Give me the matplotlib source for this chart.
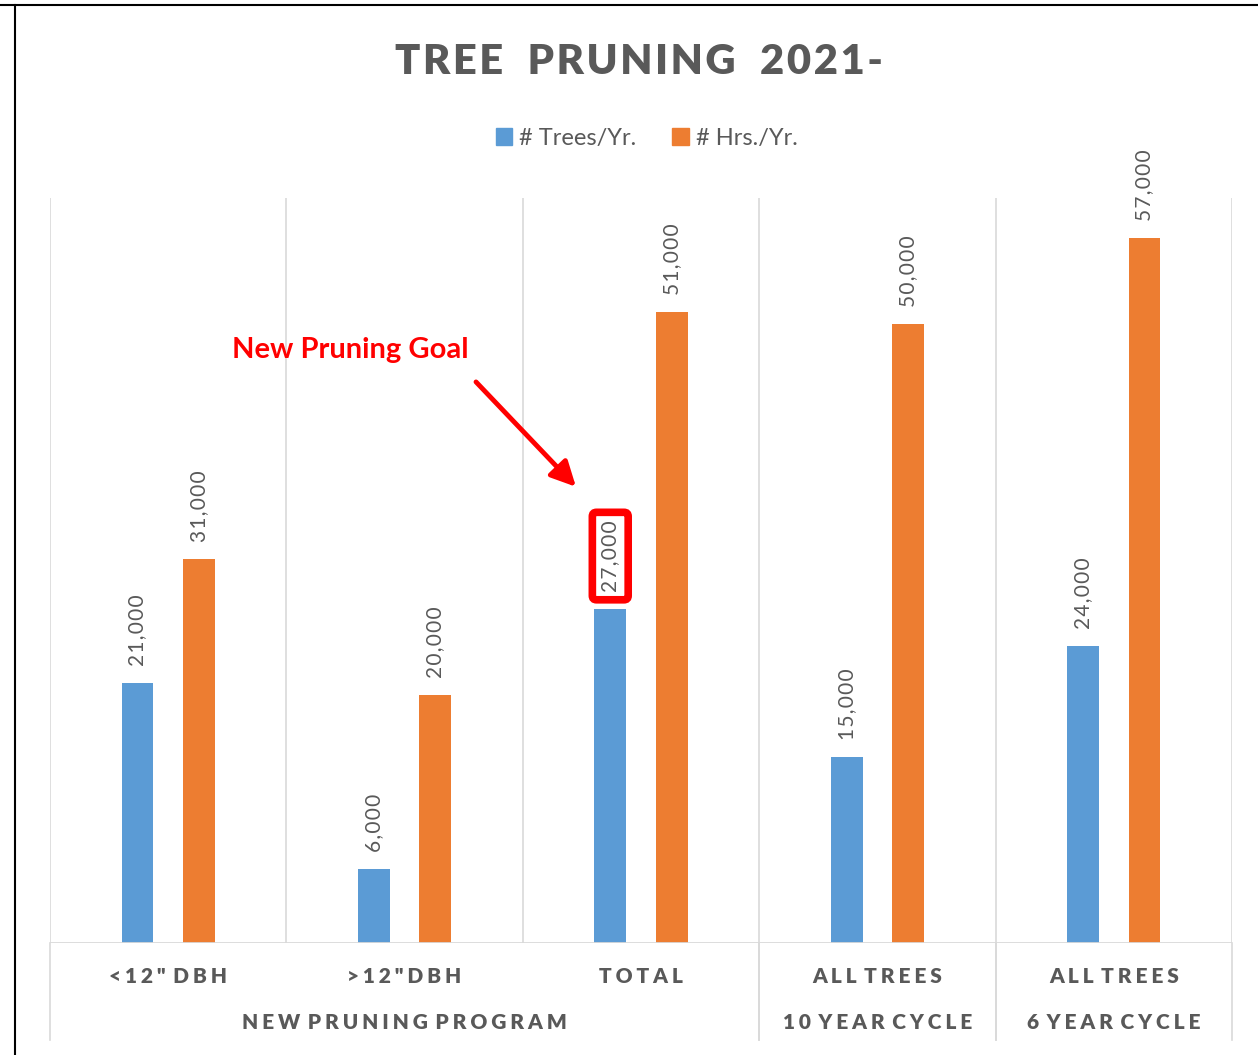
import numpy as np
import matplotlib
matplotlib.use('Agg')
import matplotlib.pyplot as plt
from matplotlib.lines import Line2D
from matplotlib.patches import Patch

plt.rcParams['font.family'] = ['Lato', 'DejaVu Sans']

# dados
categorias = ['<12" DBH', '>12"DBH', 'TOTAL', 'ALL TREES', 'ALL TREES']
grupos = ['NEW PRUNING PROGRAM', '10 YEAR CYCLE', '6 YEAR CYCLE']
grupo_span = [(0, 2), (3, 3), (4, 4)]
arvores = [21000, 6000, 27000, 15000, 24000]
horas = [31000, 20000, 51000, 50000, 57000]
series = ['# Trees/Yr.', '# Hrs./Yr.']

azul = '#5B9BD5'
laranja = '#ED7D31'
cinza = '#595959'
grade = '#D9D9D9'


def espacado(s, sp='\u200a', sp_palavra=' '):
    # simula o espaçamento entre letras do excel
    palavras = s.split(' ')
    return sp_palavra.join(sp.join(p) for p in palavras)


fig = plt.figure(figsize=(12.58, 10.55), dpi=100)
ax = fig.add_axes([50 / 1258, 112 / 1055, 1182 / 1258, 745 / 1055])

x = np.arange(len(categorias))
larg = 0.135
b1 = ax.bar(x - 0.13, arvores, larg, color=azul, zorder=3)
b2 = ax.bar(x + 0.13, horas, larg, color=laranja, zorder=3)

ax.set_xlim(-0.5, len(categorias) - 0.5)
ax.set_ylim(0, 60200)
ax.set_xticks([])
ax.set_yticks([])
for s in ax.spines.values():
    s.set_visible(False)

# linhas verticais entre categorias
for xv in np.arange(-0.5, len(categorias), 1.0):
    ax.axvline(xv, color=grade, lw=1.2, zorder=1)
ax.axhline(0, color=grade, lw=2, zorder=4)

# separadores abaixo do eixo (so nas bordas dos grupos)
for g0, g1 in grupo_span:
    for xv in (g0 - 0.5, g1 + 0.5):
        ax.plot([xv, xv], [0, -0.13], color=grade, lw=1.2,
                transform=ax.get_xaxis_transform(), clip_on=False)

tr = ax.get_xaxis_transform()
esp_cat = '\u2009\u200a'
for i, c in enumerate(categorias):
    ax.text(i, -0.0456, espacado(c, esp_cat, ' \u2009'), transform=tr,
            ha='center', va='center', fontsize=15, fontweight='heavy', color=cinza)
for (g0, g1), g in zip(grupo_span, grupos):
    ax.text((g0 + g1) / 2, -0.107, espacado(g, esp_cat, ' \u2009'),
            transform=tr, ha='center', va='center', fontsize=15,
            fontweight='heavy', color=cinza)

# rotulos de dados
rotulos = []
for barras in (b1, b2):
    for b in barras:
        v = b.get_height()
        t = ax.annotate(espacado(f'{int(v):,}', '\u200a'),
                        (b.get_x() + b.get_width() / 2, v),
                        xytext=(0, 17), textcoords='offset pixels',
                        rotation=90, ha='center', va='bottom',
                        fontsize=15, color=cinza, zorder=5)
        rotulos.append(t)

# caixa vermelha no total de arvores
rotulos[2].set_bbox(dict(boxstyle='round,pad=0.38,rounding_size=0.2', fc='none',
                         ec='#FF0000', lw=5.5))

ax.annotate('', xy=(1.733, 36700), xytext=(1.294, 45500),
            arrowprops=dict(arrowstyle='-|>,head_length=1.0,head_width=0.5',
                            color='#FF0000', lw=3.5, mutation_scale=15))
ax.text(0.769, 47900, 'New Pruning Goal', ha='center', va='center',
        fontsize=21, fontweight='bold', color='#FF0000')

fig.text(0.508, 0.941, espacado('TREE PRUNING 2021-', '\u200a', '  \u2009'),
         ha='center', va='center', fontsize=30, fontweight='heavy', color=cinza)

handles = [Patch(color=azul), Patch(color=laranja)]
fig.legend(handles, series, loc='center', bbox_to_anchor=(0.514, 0.869), ncol=2,
           frameon=False, fontsize=17, handlelength=0.7, handleheight=0.7,
           handletextpad=0.3, columnspacing=1.5, labelcolor=cinza)

# moldura preta (cima e esquerda)
fig.add_artist(Line2D([0, 1], [1 - 5 / 1055] * 2, color='black', lw=1.5,
                      transform=fig.transFigure))
fig.add_artist(Line2D([15 / 1258] * 2, [0, 1 - 5 / 1055], color='black', lw=1.5,
                      transform=fig.transFigure))

fig.savefig('out.png', dpi=100)
